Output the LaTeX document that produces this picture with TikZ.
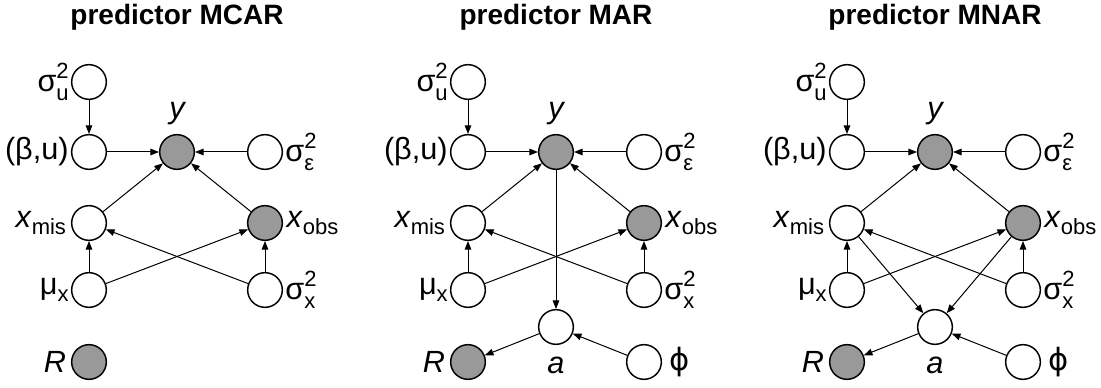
\documentclass[tikz,border=0pt]{standalone}
\usepackage{fontspec}
\setmainfont{Liberation Sans}
\newfontfamily\phifont{DejaVu Sans}
\usetikzlibrary{arrows.meta}
\newcommand{\lbl}{\fontsize{23}{26}\selectfont}
\newcommand{\sml}{\fontsize{16.5}{18}\selectfont}
% sigma with stacked super- and subscript
\newcommand{\sigsq}[1]{σ\rlap{\raisebox{0.42em}{\sml 2}}\raisebox{-0.28em}{\sml #1}}
\newcommand{\lowsub}[2]{#1\raisebox{-0.25em}{\sml #2}}
\begin{document}
\begin{tikzpicture}[x=0.75pt,y=-0.75pt,
  var/.style={circle,draw,line width=1.1pt,minimum size=26pt,inner sep=0pt},
  obs/.style={var,fill=black!40},
  arr/.style={-{Triangle[length=6.5pt,width=5pt]},line width=0.75pt},
  every label/.style={font=\lbl,inner sep=1.5pt},
  title/.style={font=\fontsize{21}{24}\selectfont\bfseries}]
\useasboundingbox (0,0) rectangle (1101,388);
% predictor MCAR
\node[title] (t1) at (177,17) {predictor MCAR};
\node[var,label=left:{\sigsq{u}}] (su1) at (89,82) {};
\node[var,label=left:{(β,u)}] (bu1) at (89,152) {};
\node[obs,label={[label distance=5pt]above:{\itshape y}}] (y1) at (177,152) {};
\node[var,label=right:{\sigsq{ε}}] (se1) at (265,152) {};
\node[var,label={[label distance=2pt]left:{\lowsub{\textit{x}}{mis}}}] (xm1) at (89,223) {};
\node[obs,label={[label distance=1pt]right:{\lowsub{\textit{x}}{obs}}}] (xo1) at (265,223) {};
\node[var,label=left:{\lowsub{μ}{x}}] (mu1) at (89,290) {};
\node[var,label=right:{\sigsq{x}}] (sx1) at (265,290) {};
\node[obs,label={[label distance=2pt]left:{\itshape R}}] (R1) at (89,362) {};
\draw[arr] (su1)--(bu1); \draw[arr] (bu1)--(y1); \draw[arr] (se1)--(y1);
\draw[arr] (xm1)--(y1); \draw[arr] (xo1)--(y1);
\draw[arr] (mu1)--(xm1); \draw[arr] (sx1)--(xo1); \draw[arr] (mu1)--(xo1); \draw[arr] (sx1)--(xm1);
% predictor MAR
\node[title] (t2) at (556,17) {predictor MAR};
\node[var,label=left:{\sigsq{u}}] (su2) at (468,82) {};
\node[var,label=left:{(β,u)}] (bu2) at (468,152) {};
\node[obs,label={[label distance=5pt]above:{\itshape y}}] (y2) at (556,152) {};
\node[var,label=right:{\sigsq{ε}}] (se2) at (644,152) {};
\node[var,label={[label distance=2pt]left:{\lowsub{\textit{x}}{mis}}}] (xm2) at (468,223) {};
\node[obs,label={[label distance=1pt]right:{\lowsub{\textit{x}}{obs}}}] (xo2) at (644,223) {};
\node[var,label=left:{\lowsub{μ}{x}}] (mu2) at (468,290) {};
\node[var,label=right:{\sigsq{x}}] (sx2) at (644,290) {};
\node[var,label={[label distance=7.5pt]below:{\itshape a}}] (a2) at (556,327) {};
\node[obs,label={[label distance=2pt]left:{\itshape R}}] (R2) at (468,362) {};
\node[var,label={[label distance=4pt]right:{\phifont ϕ}}] (ph2) at (644,362) {};
\draw[arr] (su2)--(bu2); \draw[arr] (bu2)--(y2); \draw[arr] (se2)--(y2);
\draw[arr] (xm2)--(y2); \draw[arr] (xo2)--(y2);
\draw[arr] (mu2)--(xm2); \draw[arr] (sx2)--(xo2); \draw[arr] (mu2)--(xo2); \draw[arr] (sx2)--(xm2);
\draw[arr] (y2)--(a2); \draw[arr] (a2)--(R2); \draw[arr] (ph2)--(a2);
% predictor MNAR
\node[title] (t3) at (935,17) {predictor MNAR};
\node[var,label=left:{\sigsq{u}}] (su3) at (847,82) {};
\node[var,label=left:{(β,u)}] (bu3) at (847,152) {};
\node[obs,label={[label distance=5pt]above:{\itshape y}}] (y3) at (935,152) {};
\node[var,label=right:{\sigsq{ε}}] (se3) at (1023,152) {};
\node[var,label={[label distance=2pt]left:{\lowsub{\textit{x}}{mis}}}] (xm3) at (847,223) {};
\node[obs,label={[label distance=1pt]right:{\lowsub{\textit{x}}{obs}}}] (xo3) at (1023,223) {};
\node[var,label=left:{\lowsub{μ}{x}}] (mu3) at (847,290) {};
\node[var,label=right:{\sigsq{x}}] (sx3) at (1023,290) {};
\node[var,label={[label distance=7.5pt]below:{\itshape a}}] (a3) at (935,327) {};
\node[obs,label={[label distance=2pt]left:{\itshape R}}] (R3) at (847,362) {};
\node[var,label={[label distance=4pt]right:{\phifont ϕ}}] (ph3) at (1023,362) {};
\draw[arr] (su3)--(bu3); \draw[arr] (bu3)--(y3); \draw[arr] (se3)--(y3);
\draw[arr] (xm3)--(y3); \draw[arr] (xo3)--(y3);
\draw[arr] (mu3)--(xm3); \draw[arr] (sx3)--(xo3); \draw[arr] (mu3)--(xo3); \draw[arr] (sx3)--(xm3);
\draw[arr] (xm3)--(a3); \draw[arr] (xo3)--(a3); \draw[arr] (a3)--(R3); \draw[arr] (ph3)--(a3);
\end{tikzpicture}
\end{document}
